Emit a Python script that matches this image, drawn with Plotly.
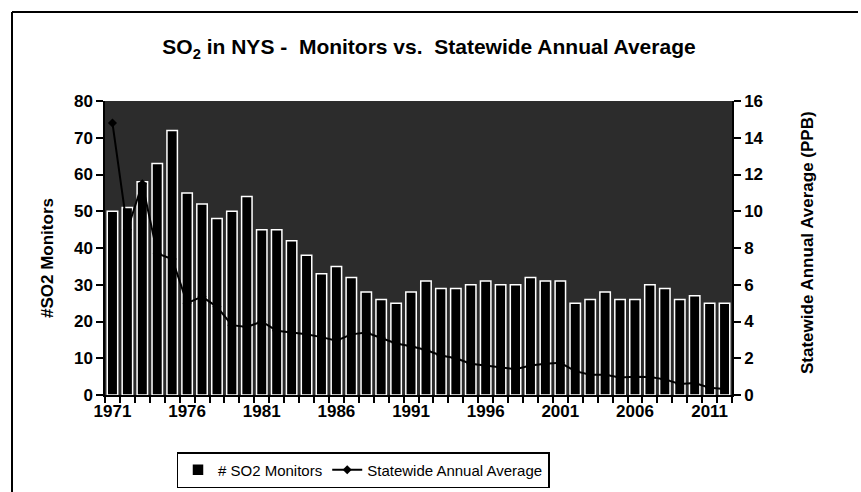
import plotly.graph_objects as go
from plotly.subplots import make_subplots

years = list(range(1971, 2013))
monitors = [50, 51, 58, 63, 72, 55, 52, 48, 50, 54,
            45, 45, 42, 38, 33, 35, 32, 28, 26, 25,
            28, 31, 29, 29, 30, 31, 30, 30, 32, 31,
            31, 25, 26, 28, 26, 26, 30, 29, 26, 27,
            25, 25]
avg_ppb = [14.8, 9.0, 11.5, 7.7, 7.4, 5.0, 5.35, 4.8, 3.8, 3.7,
           4.0, 3.5, 3.4, 3.3, 3.15, 2.95, 3.3, 3.4, 3.1, 2.8,
           2.65, 2.45, 2.15, 2.0, 1.7, 1.6, 1.5, 1.4, 1.6, 1.7,
           1.75, 1.3, 1.1, 1.1, 0.95, 1.0, 0.98, 0.85, 0.6, 0.65,
           0.4, 0.33]
x_tick_labels = ["1971", "1976", "1981", "1986", "1991", "1996", "2001", "2006", "2011"]
x_tick_vals = [int(s) for s in x_tick_labels]

FONT = "Liberation Sans, Arial, sans-serif"

fig = make_subplots(specs=[[{"secondary_y": True}]])

fig.add_trace(go.Bar(
    x=years, y=monitors, name="# SO2 Monitors",
    marker=dict(color="black", line=dict(color="white", width=1.5)),
), secondary_y=False)

fig.add_trace(go.Scatter(
    x=years, y=avg_ppb, name="Statewide Annual Average",
    mode="lines+markers",
    line=dict(color="black", width=2),
    marker=dict(symbol="diamond", size=7, color="black"),
), secondary_y=True)

W, H = 861, 492
L, R, T, B = 105, 129, 101, 97
PW = W - L - R
PH = H - T - B

def px_x(p):
    return (p - L) / PW

def px_y(p):
    return (H - B - p) / PH

fig.update_layout(
    width=W, height=H,
    margin=dict(l=L, r=R, t=T, b=B, autoexpand=False),
    paper_bgcolor="white",
    plot_bgcolor="#2c2c2c",
    bargap=0.3,
    font=dict(family=FONT, color="black"),
    title=dict(
        text="<b>SO<sub>2</sub> in NYS -\u00a0 Monitors vs.\u00a0 Statewide Annual Average</b>",
        xref="container", yref="container",
        x=429 / W, y=1 - 47 / H, xanchor="center", yanchor="middle",
        font=dict(size=21, family=FONT, color="black"),
    ),
    legend=dict(
        orientation="h",
        x=px_x(363), xanchor="center",
        y=px_y(452), yanchor="top",
        bordercolor="black", borderwidth=1.5,
        bgcolor="white",
        font=dict(size=15, family=FONT, color="black"),
        traceorder="normal",
    ),
    showlegend=True,
)

fig.update_xaxes(
    domain=[0, 1],
    range=[1970.5, 2012.5],
    tickvals=x_tick_vals, ticktext=x_tick_labels,
    ticks="",
    tickfont=dict(size=17, family=FONT, weight="bold", color="black"),
    showgrid=False, zeroline=False,
    showline=True, linecolor="black", linewidth=1.5,
    minor=dict(ticks="outside", tick0=1970.5, dtick=1, ticklen=6, tickcolor="black", tickwidth=1.5),
)

fig.update_yaxes(
    range=[0, 80], dtick=10,
    ticks="outside", ticklen=7, tickwidth=1.5, tickcolor="black",
    tickfont=dict(size=17, family=FONT, weight="bold", color="black"),
    showgrid=False, zeroline=False,
    showline=True, linecolor="black", linewidth=1.5,
    secondary_y=False,
)
fig.update_yaxes(
    range=[0, 16], dtick=2,
    ticks="outside", ticklen=7, tickwidth=1.5, tickcolor="black",
    tickfont=dict(size=17, family=FONT, weight="bold", color="black"),
    showgrid=False, zeroline=False,
    showline=True, linecolor="black", linewidth=1.5,
    secondary_y=True,
)

# axis titles
fig.add_annotation(
    text="<b>#SO2 Monitors</b>", textangle=-90,
    xref="paper", yref="paper",
    x=px_x(47), y=px_y(258),
    xanchor="center", yanchor="middle", showarrow=False,
    font=dict(size=17, family=FONT, color="black"),
)
fig.add_annotation(
    text="<b>Statewide Annual Average (PPB)</b>", textangle=-90,
    xref="paper", yref="paper",
    x=px_x(807), y=px_y(243),
    xanchor="center", yanchor="middle", showarrow=False,
    font=dict(size=17, family=FONT, color="black"),
)

# chart frame (top and left edges)
fig.add_shape(type="line", xref="paper", yref="paper",
              x0=px_x(12), x1=px_x(858), y0=px_y(12), y1=px_y(12),
              line=dict(color="black", width=2))
fig.add_shape(type="line", xref="paper", yref="paper",
              x0=px_x(12), x1=px_x(12), y0=px_y(12), y1=px_y(492),
              line=dict(color="black", width=2))

fig.write_html("out.html")
